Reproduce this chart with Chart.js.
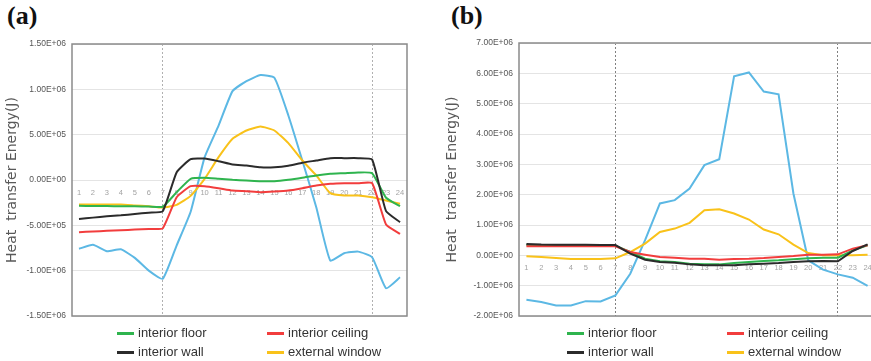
<!DOCTYPE html>
<html>
<head>
<meta charset="utf-8">
<script src="https://cdn.jsdelivr.net/npm/chart.js@4"></script>
<style>
    body { margin: 0; width: 871px; height: 361px; overflow: hidden; background: #fff; position: relative; font-family: "Liberation Sans", sans-serif; }
    .panel-title { position: absolute; font-family: "Liberation Serif", serif; font-weight: bold; font-size: 26px; color: #111; line-height: 30px; }
    canvas { position: absolute; top: 0; }
    .key { position: absolute; font-size: 13px; color: #333; line-height: 16px; white-space: nowrap; }
    .key i { display: inline-block; width: 17px; height: 3px; vertical-align: middle; margin-right: 4px; }
</style>
</head>
<body>
<div class="panel-title" style="left:7px; top:1px">(a)</div>
<div class="panel-title" style="left:451px; top:1px">(b)</div>
<canvas id="chartA" width="430" height="361" style="left:0"></canvas>
<canvas id="chartB" width="450" height="361" style="left:440px"></canvas>
<div id="legendA"></div>
<div id="legendB"></div>
<script>

// hours of the day
const hours = ['1','2','3','4','5','6','7','8','9','10','11','12','13','14','15','16','17','18','19','20','21','22','23','24'];

// panel (a) - values in J
const floorA   = [-2.85e5,-2.87e5,-2.88e5,-2.89e5,-2.9e5,-2.92e5,-2.95e5,-1.34e5,1.3e4,2.4e4,1.3e4,2e3,-5e3,-1.3e4,-1.3e4,2e3,2.4e4,5e4,6.8e4,7.5e4,8.3e4,7.5e4,-1.96e5,-2.89e5];
const ceilingA = [-5.75e5,-5.68e5,-5.61e5,-5.54e5,-5.47e5,-5.4e5,-5.33e5,-1.9e5,-6.8e4,-6.8e4,-9e4,-1.16e5,-1.23e5,-1.34e5,-1.27e5,-1.16e5,-9e4,-6.1e4,-4.2e4,-3.5e4,-3.5e4,-3.5e4,-4.91e5,-5.94e5];
const wallA    = [-4.29e5,-4.15e5,-4e5,-3.9e5,-3.75e5,-3.6e5,-3.45e5,8.6e4,2.3e5,2.37e5,2.07e5,1.71e5,1.6e5,1.41e5,1.41e5,1.57e5,1.9e5,2.15e5,2.41e5,2.41e5,2.41e5,2.26e5,-3.44e5,-4.65e5];
const windowA  = [-2.7e5,-2.7e5,-2.7e5,-2.7e5,-2.8e5,-2.9e5,-3.03e5,-2.74e5,-1.75e5,1.3e4,2.52e5,4.55e5,5.46e5,5.9e5,5.46e5,4.06e5,2.15e5,5e4,-1.45e5,-1.71e5,-1.71e5,-1.9e5,-2.26e5,-2.63e5];
const outerA   = [-7.59e5,-7.15e5,-7.86e5,-7.64e5,-8.59e5,-1.0e6,-1.09e6,-7.2e5,-3.5e5,2.5e5,6.0e5,9.8e5,1.09e6,1.157e6,1.128e6,7.12e5,2.15e5,-3.0e5,-8.88e5,-8.08e5,-7.9e5,-8.52e5,-1.194e6,-1.073e6];

// panel (b)
const floorB   = [3.4e5,3.35e5,3.35e5,3.3e5,3.25e5,3.2e5,3.2e5,1.1e5,-1.1e5,-1.98e5,-2.2e5,-2.76e5,-2.98e5,-2.98e5,-2.54e5,-2.2e5,-1.87e5,-1.65e5,-1.32e5,-9.9e4,-7.7e4,-7.7e4,1.65e5,3.31e5];
const ceilingB = [2.98e5,2.97e5,2.97e5,2.97e5,2.96e5,2.96e5,2.96e5,1.1e5,2.2e4,-5.5e4,-7.7e4,-1.1e5,-1.1e5,-1.43e5,-1.21e5,-1.1e5,-8.8e4,-5.5e4,-2.2e4,2.2e4,2.2e4,3.3e4,2.2e5,3.31e5];
const wallB    = [3.75e5,3.55e5,3.52e5,3.5e5,3.45e5,3.4e5,3.4e5,5.5e4,-1.43e5,-2.2e5,-2.43e5,-2.98e5,-3.3e5,-3.3e5,-3.3e5,-2.98e5,-2.76e5,-2.54e5,-2.2e5,-1.98e5,-1.87e5,-1.98e5,1.43e5,3.64e5];
const windowB  = [-3.3e4,-5.5e4,-8.8e4,-1.21e5,-1.21e5,-1.21e5,-9.9e4,1.1e5,3.86e5,7.71e5,8.82e5,1.07e6,1.49e6,1.52e6,1.38e6,1.18e6,8.5e5,6.94e5,3.53e5,7.7e4,0,0,0,2.2e4];
const outerB   = [-1.465e6,-1.54e6,-1.65e6,-1.65e6,-1.51e6,-1.52e6,-1.32e6,-6.07e5,5e5,1.71e6,1.82e6,2.2e6,2.975e6,3.17e6,5.9e6,6.03e6,5.4e6,5.31e6,2.04e6,-1.65e5,-4.73e5,-6.28e5,-7.37e5,-1.01e6];

// y ticks
const ticksA = { min: -1.5e6, max: 1.5e6, step: 5e5 };
const ticksB = { min: -2e6, max: 7e6, step: 1e6 };

const legendLabels = ['interior floor', 'interior ceiling', 'interior wall', 'external window'];
const colors = { floor: '#2fb44e', ceiling: '#f23d3d', wall: '#2b2b2b', window: '#f9c21a', outer: '#5cb8e4' };

// 1.50E+06 style
function sci(v) {
    const [m, e] = Number(v).toExponential(2).split('e');
    return m + 'E' + e[0] + e.slice(1).padStart(2, '0');
}

// grey frame round the plot area
const frameBox = {
    id: 'frameBox',
    afterDatasetsDraw(chart) {
        const { ctx, chartArea: a } = chart;
        ctx.save();
        ctx.strokeStyle = '#8a8a8a';
        ctx.lineWidth = 1.5;
        ctx.strokeRect(a.left, a.top, a.right - a.left, a.bottom - a.top);
        ctx.restore();
    }
};

buildPanel('chartA', { floor: floorA, ceiling: ceilingA, wall: wallA, window: windowA, outer: outerA }, ticksA, 72, 23, 44, 0.15, '#b0b0b0');
buildPanel('chartB', { floor: floorB, ceiling: ceilingB, wall: wallB, window: windowB, outer: outerB }, ticksB, 79, 15, 43, 0, '#808080');
buildLegend('legendA', 117, 267);
buildLegend('legendB', 567, 727);

function buildPanel(id, s, t, axisWidth, padRight, padTop, tension, markColor) {
    const ctx = document.getElementById(id);
    const line = (label, data, color) => ({
        label: label, data: data, borderColor: color, backgroundColor: color,
        borderWidth: 2, pointRadius: 0, fill: false, tension: tension
    });
    // @ts-ignore
    new Chart(ctx, {
        type: 'line',
        data: {
            labels: hours,
            datasets: [
                line('interior wall', s.wall, colors.wall),
                line('interior ceiling', s.ceiling, colors.ceiling),
                line('interior floor', s.floor, colors.floor),
                line('external window', s.window, colors.window),
                line('external wall', s.outer, colors.outer)
            ]
        },
        options: {
            responsive: false,
            animation: false,
            layout: { padding: { top: padTop, bottom: 45, left: 0, right: padRight } },
            scales: {
                x: {
                    position: { y: 0 },
                    offset: true,
                    ticks: { autoSkip: false, maxRotation: 0, color: '#a3a3a3', font: { size: 7.5 }, padding: 8 },
                    grid: {
                        drawTicks: false,
                        color: c => (c.index === 6 || c.index === 21) ? markColor : 'rgba(0,0,0,0)'
                    },
                    border: { display: false, dash: [2, 2] }
                },
                y: {
                    min: t.min,
                    max: t.max,
                    ticks: { stepSize: t.step, callback: sci, color: '#555', font: { size: 8.5, family: 'Liberation Sans' }, padding: 6 },
                    grid: { color: '#e4e4e4', drawTicks: false },
                    border: { display: false },
                    title: {
                        display: true,
                        text: 'Heat  transfer Energy(J)',
                        color: '#595959',
                        font: { size: 14, family: 'DejaVu Sans' },
                        padding: { top: 4, bottom: 0 }
                    },
                    afterFit: sc => { sc.width = axisWidth; }
                }
            },
            plugins: {
                legend: { display: false },
                tooltip: { enabled: false }
            }
        },
        plugins: [frameBox]
    });
}

function buildLegend(id, col1, col2) {
    const box = document.getElementById(id);
    const keyColors = [colors.floor, colors.ceiling, colors.wall, colors.window];
    legendLabels.forEach((label, i) => {
        const d = document.createElement('div');
        d.className = 'key';
        d.style.left = (i % 2 === 0 ? col1 : col2) + 'px';
        d.style.top = (i < 2 ? 325 : 344) + 'px';
        d.innerHTML = '<i style="background:' + keyColors[i] + '"></i>' + label;
        box.appendChild(d);
    });
}
</script>
</body>
</html>
